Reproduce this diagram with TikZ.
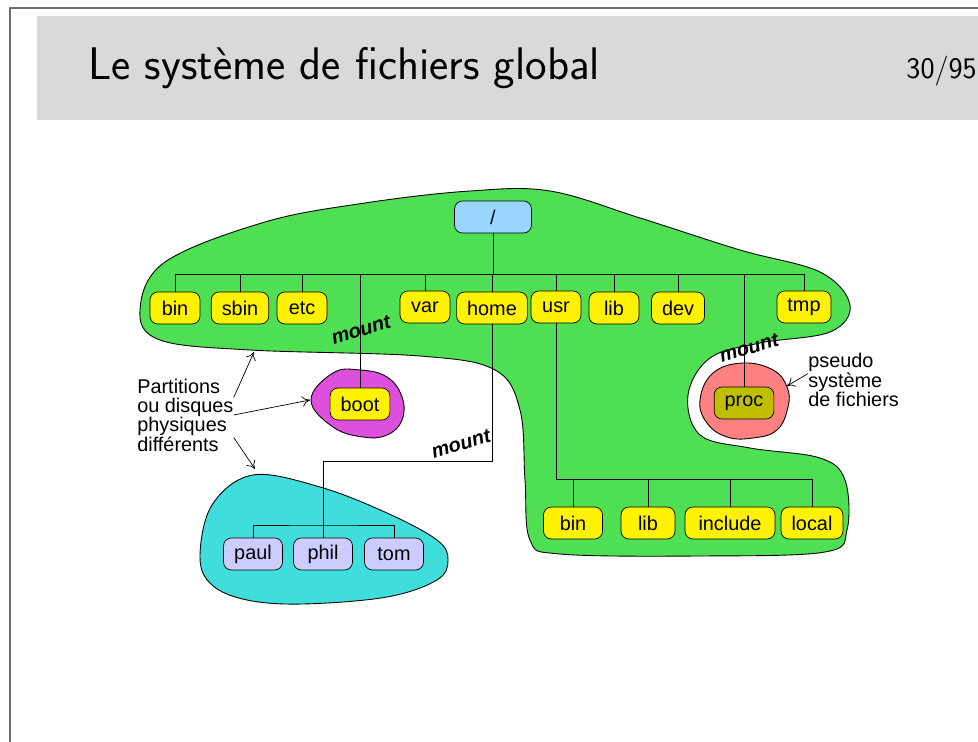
\documentclass[tikz,border=0pt]{standalone}
\usepackage{fontspec}
\newfontfamily\helv{Liberation Sans}
\usetikzlibrary{arrows.meta}
\definecolor{bandgray}{RGB}{217,217,217}
\definecolor{framegray}{RGB}{110,110,110}
\definecolor{rootblue}{RGB}{153,214,255}
\definecolor{dirgreen}{RGB}{78,224,82}
\definecolor{bootmag}{RGB}{221,79,221}
\definecolor{homecyan}{RGB}{64,221,221}
\definecolor{procpink}{RGB}{255,128,128}
\definecolor{procolive}{RGB}{191,191,0}
\definecolor{userlav}{RGB}{204,204,255}
\begin{document}
\begin{tikzpicture}[x=0.02cm,y=-0.02cm,
    dir/.style={draw,fill=yellow,rounded corners=4.5pt,minimum width=1cm,
      minimum height=0.64cm,inner xsep=6pt,inner ysep=0pt,
      font=\helv\fontsize{11.3}{13}\selectfont},
    blob/.style={draw,line width=0.5pt},
    mountlbl/.style={rotate=17,font=\helv\bfseries\itshape\fontsize{11.3}{13}\selectfont},
    note/.style={align=left,inner sep=0pt,font=\helv\fontsize{11.3}{11}\selectfont},
    pointer/.style={-{To[length=4.5pt,width=6pt]}}]
  \useasboundingbox (0,0) rectangle (978,742);
  % slide frame and title band
  \fill[bandgray] (37,16) rectangle (978,120);
  \draw[framegray,line width=1.1pt] (10,742) -- (10,8) -- (978,8);
  \node[anchor=base west,inner sep=0pt,font=\sffamily\fontsize{26}{30}\selectfont]
    (title) at (88,80) {Le système de fichiers global};
  \node[anchor=base east,inner sep=0pt,font=\sffamily\fontsize{17}{20}\selectfont]
    (page) at (977,79) {30/95};
  % partitions
  \draw[blob,fill=dirgreen] plot[smooth cycle,tension=0.6] coordinates {
    (140,310) (165,262) (265,222) (365,203) (470,191) (550,191) (640,218)
    (740,250) (820,272) (850,305) (830,332) (760,343) (710,358) (688,395)
    (700,435) (750,448) (820,458) (845,480) (847,530) (825,552) (700,556)
    (560,554) (530,540) (525,480) (520,410) (495,370) (420,356) (250,350)
    (160,340)};
  \draw[blob,fill=bootmag] plot[smooth cycle,tension=0.7] coordinates {
    (311,400) (333,373) (360,370) (387,377) (402,397) (402,420) (387,435)
    (363,437) (333,427)};
  \draw[blob,fill=procpink] plot[smooth cycle,tension=0.7] coordinates {
    (700,400) (713,373) (743,363) (773,370) (787,387) (788,407) (777,430)
    (753,438) (727,437) (707,423)};
  \draw[blob,fill=homecyan] plot[smooth cycle,tension=0.6] coordinates {
    (253,475) (212,505) (200,557) (212,585) (247,600) (303,604) (387,597)
    (437,580) (448,560) (437,540) (387,513) (320,487)};
  % bus levels
  \coordinate (rbus) at (0,274);
  \coordinate (hbus) at (0,461);
  \coordinate (ubus) at (0,479);
  \coordinate (pbus) at (0,525);
  % directories
  \node[dir,fill=rootblue,minimum width=1.54cm] (root) at (493,217) {/};
  \node[dir] (bin) at (175,308) {bin};
  \node[dir] (sbin) at (240,308) {sbin};
  \node[dir] (etc) at (302,308) {etc};
  \node[dir] (var) at (425,307) {var};
  \node[dir,minimum width=1.36cm] (home) at (492,308) {home};
  \node[dir] (usr) at (556,307) {usr};
  \node[dir] (lib) at (614,308) {lib};
  \node[dir] (dev) at (678,308) {dev};
  \node[dir] (tmp) at (804,307) {tmp};
  \node[dir] (boot) at (360,404) {boot};
  \node[dir,fill=procolive,minimum width=1.08cm] (proc) at (744,403) {proc};
  \node[dir,minimum width=1.18cm] (ubin) at (573,523) {bin};
  \node[dir,minimum width=1.08cm] (ulib) at (648,523) {lib};
  \node[dir,minimum width=1.8cm] (uinclude) at (730,523) {include};
  \node[dir,minimum width=1.08cm] (ulocal) at (812,523) {local};
  \node[dir,fill=userlav,minimum width=1.18cm] (paul) at (253,554) {paul};
  \node[dir,fill=userlav,minimum width=1.18cm] (phil) at (323,554) {phil};
  \node[dir,fill=userlav,minimum width=1.18cm] (tom) at (394,554) {tom};
  % tree lines
  \begin{scope}[-]
    \draw (root.south) -- (root.south |- rbus);
    \draw (bin.north |- rbus) -- (tmp.north |- rbus);
    \foreach \d in {bin,sbin,etc,var,home,usr,lib,dev,tmp,boot,proc}
      \draw (\d.north) -- (\d.north |- rbus);
    \draw (home.south) -- (home.south |- hbus) -| (phil.north);
    \draw (paul.north) |- (phil.north |- pbus) -| (tom.north);
    \draw (usr.south) |- (ulocal.north |- ubus) -- (ulocal.north);
    \foreach \d in {ubin,ulib,uinclude}
      \draw (\d.north) -- (\d.north |- ubus);
  \end{scope}
  % mount labels
  \node[mountlbl] (m1) at (361,330) {mount};
  \node[mountlbl] (m2) at (461,444) {mount};
  \node[mountlbl] (m3) at (749,348) {mount};
  % notes
  \node[note,anchor=west] (part) at (137,415) {Partitions\\ou disques\\physiques\\différents};
  \node[note,anchor=west] (pseudo) at (808,380) {pseudo\\système\\de fichiers};
  \coordinate (ga) at (254,352);
  \coordinate (gb) at (310,400);
  \coordinate (gc) at (255,469);
  \coordinate (gp) at (787,386);
  \draw[pointer] (part.20) to (ga);
  \draw[pointer] (part.0) to (gb);
  \draw[pointer] (part.-25) to (gc);
  \draw[pointer] (pseudo.172) to (gp);
\end{tikzpicture}
\end{document}
